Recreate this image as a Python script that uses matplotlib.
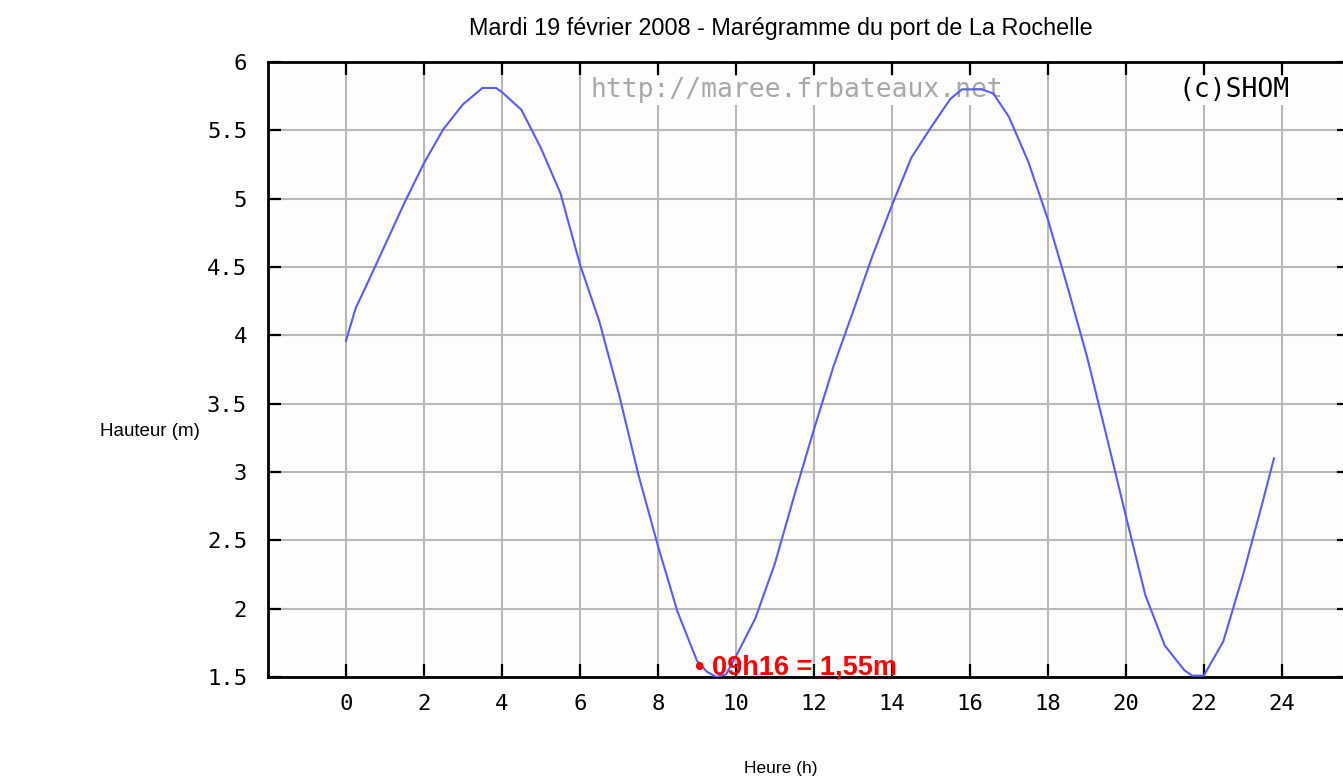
import matplotlib.pyplot as plt

# Tide curve, La Rochelle, 19 Feb 2008 (hours, metres)
heure = [0.0, 0.25, 0.5, 1.0, 1.5, 2.0, 2.5, 3.0, 3.5, 3.85, 4.0, 4.5, 5.0, 5.5,
         6.0, 6.5, 7.0, 7.5, 8.0, 8.5, 9.0, 9.25, 9.5, 9.75, 10.0, 10.5, 11.0,
         11.5, 12.0, 12.5, 13.0, 13.5, 14.0, 14.5, 15.0, 15.5, 15.8, 16.3, 16.6,
         17.0, 17.5, 18.0, 18.5, 19.0, 19.5, 20.0, 20.5, 21.0, 21.5, 21.7, 22.0,
         22.5, 23.0, 23.5, 23.8]
hauteur = [3.96, 4.20, 4.35, 4.66, 4.97, 5.26, 5.51, 5.69, 5.81, 5.81, 5.78, 5.65,
           5.37, 5.04, 4.52, 4.10, 3.57, 2.98, 2.46, 1.98, 1.62, 1.54, 1.50, 1.52,
           1.65, 1.93, 2.33, 2.83, 3.31, 3.77, 4.17, 4.58, 4.95, 5.30, 5.52, 5.73,
           5.80, 5.80, 5.77, 5.60, 5.27, 4.85, 4.36, 3.85, 3.27, 2.68, 2.10, 1.73,
           1.55, 1.51, 1.51, 1.76, 2.24, 2.77, 3.10]

xticks = list(range(0, 25, 2))
yticks = [1.5, 2, 2.5, 3, 3.5, 4, 4.5, 5, 5.5, 6]
ylabels = ['1.5', '2', '2.5', '3', '3.5', '4', '4.5', '5', '5.5', '6']

W, H = 1343, 781
fig = plt.figure(figsize=(W / 100, H / 100), dpi=100)

ax = fig.add_axes([268 / W, (H - 677) / H, (1350 - 268) / W, (677 - 62) / H])
ax.set_facecolor('#fdfdfd')

ax.plot(heure, hauteur, color='#5a5aff', linewidth=1.5, zorder=3)

ax.set_xlim(-2, 25.75)
ax.set_ylim(1.5, 6)
ax.set_xticks(xticks)
ax.set_yticks(yticks)
ax.set_yticklabels(ylabels)
ax.grid(True, color='#b8b8b8', linewidth=1.5)
ax.set_axisbelow(True)

for s in ax.spines.values():
    s.set_linewidth(2)
    s.set_color('black')

ax.tick_params(direction='in', length=9.5, width=1.6, top=True, right=True,
               labelsize=16)
ax.tick_params(axis='y', pad=15)
ax.tick_params(axis='x', pad=12)
for lab in ax.get_xticklabels() + ax.get_yticklabels():
    lab.set_family('DejaVu Sans Mono')

# watermarks sit above the grid but under the curve
ax.text(0.2976, 0.954, 'http://maree.frbateaux.net', transform=ax.transAxes,
        family='DejaVu Sans Mono', fontsize=19, color='#a8a8a8', va='center',
        bbox=dict(facecolor='#fdfdfd', edgecolor='none', pad=1), zorder=2)
ax.text(0.944, 0.954, '(c)SHOM', transform=ax.transAxes, ha='right',
        family='DejaVu Sans Mono', fontsize=19, color='black', va='center',
        bbox=dict(facecolor='#fdfdfd', edgecolor='none', pad=1), zorder=2)

ax.text(8.95, 1.515, '• 09h16 = 1,55m', color='red', fontsize=19.5,
        fontweight='bold', family='Liberation Sans', va='baseline', zorder=5)

fig.text(781 / W, 1 - 28 / H, 'Mardi 19 février 2008 - Marégramme du port de La Rochelle',
         ha='center', va='center', fontsize=16.8, family='Liberation Sans')
fig.text(150 / W, 1 - 432 / H, 'Hauteur (m)', ha='center', va='center',
         fontsize=13.5, family='Liberation Sans')
fig.text(781 / W, 1 - 768 / H, 'Heure (h)', ha='center', va='center',
         fontsize=12.5, family='Liberation Sans')

fig.savefig('out.png', dpi=100)
